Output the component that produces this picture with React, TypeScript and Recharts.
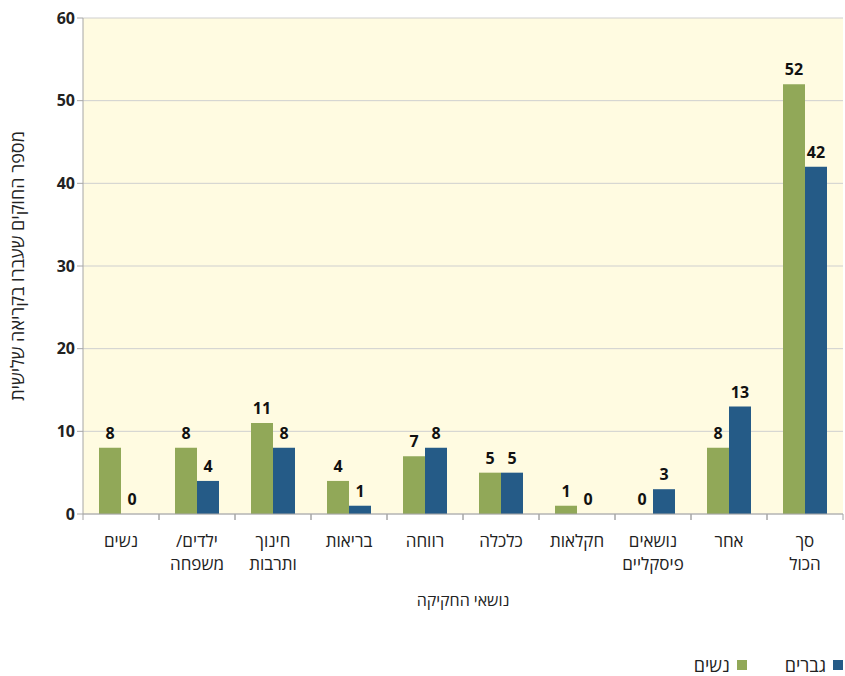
import { BarChart, Bar, XAxis, YAxis, CartesianGrid, LabelList } from 'recharts';

const categories = ['נשים', 'ילדים/\nמשפחה', 'חינוך\nותרבות', 'בריאות', 'רווחה', 'כלכלה', 'חקלאות', 'נושאים\nפיסקליים', 'אחר', 'סך\nהכול'];
const women = [8, 8, 11, 4, 7, 5, 1, 0, 8, 52];
const men = [0, 4, 8, 1, 8, 5, 0, 3, 13, 42];
const yTicks = [0, 10, 20, 30, 40, 50, 60];

const data = categories.map((name, i) => ({ name, women: women[i], men: men[i] }));

const FONT = '"Open Sans", "Liberation Sans", "DejaVu Sans", sans-serif';
const GREEN = '#91A858';
const BLUE = '#255B87';
const AXIS = '#A6A6A6';

const CategoryTick = ({ x, y, payload }: any) => {
  const lines = String(payload.value).split('\n');
  const half = payload.offset || 0;
  return (
    <g>
      <line x1={x - half} y1={y - 8} x2={x - half} y2={y - 2} stroke={AXIS} />
      <line x1={x + half} y1={y - 8} x2={x + half} y2={y - 2} stroke={AXIS} />
      {lines.map((l: string, i: number) => (
        <text key={i} x={x} y={y + 25 + i * 23} textAnchor="middle" direction="rtl"
          fontSize={17} fill="#222" fontFamily={FONT}>{l}</text>
      ))}
    </g>
  );
};

const YTitle = ({ viewBox }: any) => {
  const cy = viewBox.y + viewBox.height / 2;
  return (
    <text x={17} y={cy} transform={`rotate(-90, 17, ${cy})`} textAnchor="middle" dominantBaseline="central"
      direction="rtl" fontSize={18} fill="#222" fontFamily={FONT}>
      מספר החוקים שעברו בקריאה שלישית
    </text>
  );
};

const ValueLabel = (props: any) => {
  const { x, y, width, value } = props;
  if (value == null) return null;
  return (
    <text x={x + width / 2} y={y - 9} textAnchor="middle" fontSize={16} fontWeight={700}
      fill="#111" fontFamily={FONT}>{value}</text>
  );
};

// keep zero bars in the label list without drawing a visible rectangle
const tinyForZero = (v: any) => (v === 0 ? 0.001 : 0);

export default function App() {
  return (
    <div style={{ position: 'absolute', left: 0, top: 0, width: 845, height: 676, background: '#fff' }}>
      <BarChart width={845} height={676} data={data} barCategoryGap={16} barGap={0}
        margin={{ top: 18, right: 2, left: 23, bottom: 0 }}>
        <CartesianGrid vertical={false} stroke="#CFCFCF" fill="#FFFBE1" />
        <XAxis dataKey="name" height={162} stroke={AXIS} tickLine={false} interval={0}
          tick={<CategoryTick />}
          label={{ value: 'נושאי החקיקה', position: 'insideTop', offset: 81, fontSize: 16, fill: '#222', fontFamily: FONT }} />
        <YAxis width={60} domain={[0, 60]} ticks={yTicks} stroke={AXIS} tickSize={6}
          tick={{ fontSize: 16, fontWeight: 700, fill: '#222', fontFamily: FONT }}
          label={<YTitle />} />
        <Bar dataKey="women" fill={GREEN} minPointSize={tinyForZero} isAnimationActive={false}>
          <LabelList dataKey="women" content={<ValueLabel />} />
        </Bar>
        <Bar dataKey="men" fill={BLUE} minPointSize={tinyForZero} isAnimationActive={false}>
          <LabelList dataKey="men" content={<ValueLabel />} />
        </Bar>
      </BarChart>
      <div style={{ position: 'absolute', top: 656, right: 2, height: 18, lineHeight: '18px', display: 'flex', direction: 'rtl', alignItems: 'center', fontFamily: FONT, fontSize: 18, color: '#222' }}>
        <span style={{ width: 10, height: 10, background: BLUE, display: 'inline-block', marginLeft: 7 }} />
        <span style={{ marginLeft: 38 }}>גברים</span>
        <span style={{ width: 10, height: 10, background: GREEN, display: 'inline-block', marginLeft: 7 }} />
        <span>נשים</span>
      </div>
    </div>
  );
}
